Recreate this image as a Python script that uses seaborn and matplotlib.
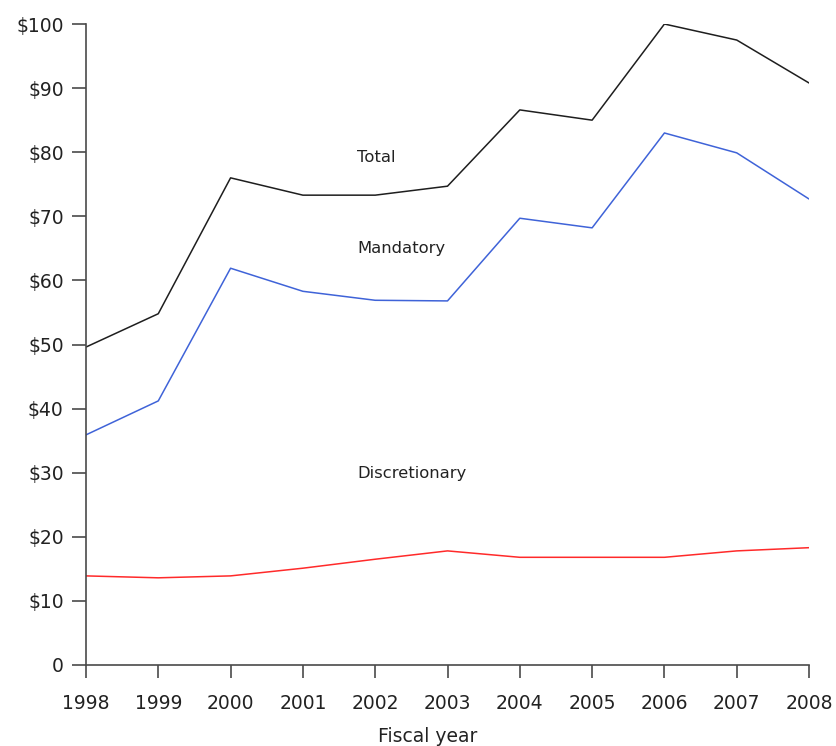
import matplotlib
matplotlib.use("Agg")
import matplotlib.pyplot as plt
import seaborn as sns
import pandas as pd

years = [1998, 1999, 2000, 2001, 2002, 2003, 2004, 2005, 2006, 2007, 2008]
total = [49.6, 54.8, 76.0, 73.3, 73.3, 74.7, 86.6, 85.0, 100.0, 97.5, 90.8]
mandatory = [35.9, 41.2, 61.9, 58.3, 56.9, 56.8, 69.7, 68.2, 83.0, 79.9, 72.7]
discretionary = [13.9, 13.6, 13.9, 15.1, 16.5, 17.8, 16.8, 16.8, 16.8, 17.8, 18.3]
series_names = ["Total", "Mandatory", "Discretionary"]
y_ticks = [0, 10, 20, 30, 40, 50, 60, 70, 80, 90, 100]
y_labels = ["0", "$10", "$20", "$30", "$40", "$50", "$60", "$70", "$80", "$90", "$100"]

df = pd.DataFrame({"year": years * 3,
                   "value": total + mandatory + discretionary,
                   "series": [s for s in series_names for _ in years]})

sns.set_style("white")
plt.rcParams['font.family'] = ['DejaVu Sans']

fig = plt.figure(figsize=(8.37, 7.46), dpi=100)
ax = fig.add_axes([0.1027, 0.1086, 0.8639, 0.8592])

palette = {"Total": "#1e1e1e", "Mandatory": "#3f63d8", "Discretionary": "#ff2a2a"}
sns.lineplot(data=df, x="year", y="value", hue="series", palette=palette,
             linewidth=1.1, legend=False, ax=ax)

ax.set_xlim(1998, 2008)
ax.set_ylim(0, 100)
ax.set_xticks(years)
ax.set_xticklabels([str(y) for y in years])
ax.set_yticks(y_ticks)
ax.set_yticklabels(y_labels)
ax.set_xlabel("Fiscal year", fontsize=13.5, color="#222222")
ax.xaxis.set_label_coords(0.473, -0.096)
ax.set_ylabel("")

sns.despine(ax=ax)
for s in ["left", "bottom"]:
    ax.spines[s].set_color("#4a4a4a")
    ax.spines[s].set_linewidth(1.2)
ax.tick_params(axis="both", which="both", width=1.2, color="#4a4a4a",
               labelsize=13.5, labelcolor="#222222", left=True, bottom=True)
ax.tick_params(axis="x", length=9, pad=12)
ax.tick_params(axis="y", length=10, pad=6)
ax.spines["bottom"].set_bounds(1998, 2008)

ax.text(2001.75, 79.1, "Total", fontsize=11.8, ha="left", va="center", color="#222222")
ax.text(2001.75, 64.9, "Mandatory", fontsize=11.8, ha="left", va="center", color="#222222")
ax.text(2001.75, 29.8, "Discretionary", fontsize=11.8, ha="left", va="center", color="#222222")

fig.savefig("out.png", dpi=100)
